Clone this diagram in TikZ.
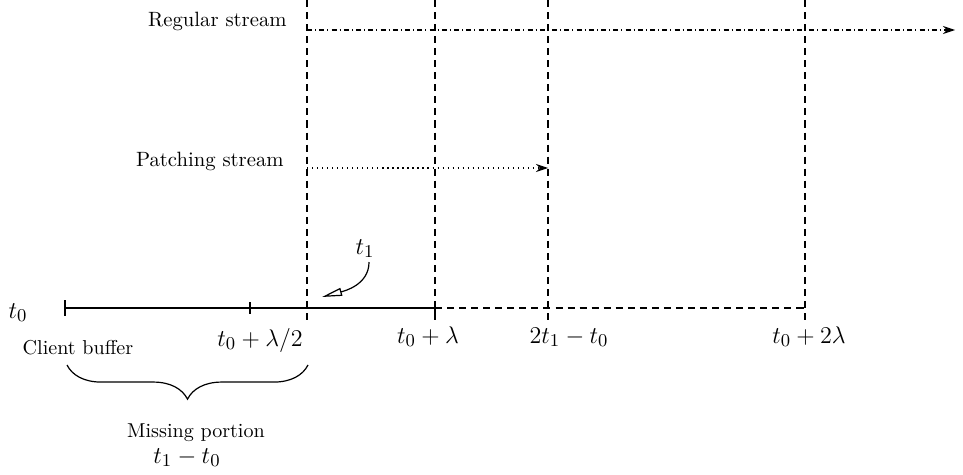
\documentclass[tikz,border=0pt]{standalone}
\usetikzlibrary{arrows.meta,decorations.pathreplacing}

\begin{document}
\begin{tikzpicture}[x=0.0175cm,y=-0.0175cm,
    guide/.style={semithick, dash pattern=on 3.5pt off 2.5pt},
    mathlabel/.style={font=\fontsize{13}{15}\selectfont, anchor=base, inner sep=0pt},
    streamlabel/.style={anchor=base east, inner sep=0pt},
    >={Stealth[length=6pt,width=4pt]}]
    \useasboundingbox (0,0) rectangle (963,475);

    % points on the time axis
    \coordinate (top) at (0,0);
    \coordinate (low) at (0,320);
    \coordinate (a0) at (65,308);
    \coordinate (ahalf) at (250,308);
    \coordinate (a1) at (307,308);
    \coordinate (alam) at (435,308);
    \coordinate (apatch) at (548,308);
    \coordinate (a2lam) at (805,308);

    \foreach \p in {a1,alam,apatch,a2lam}
        \draw[guide] (\p |- top) -- (\p |- low);

    \draw[semithick] (a0) -- (alam);
    \draw[guide] (alam) -- (a2lam);
    \draw[semithick] (a0) ++(0,-8) -- ++(0,16);
    \draw[semithick] (ahalf) ++(0,-6) -- ++(0,12);
    \draw[semithick] (alam) ++(0,-6) -- ++(0,12);

    % the two streams
    \coordinate (reg) at (307,30);
    \coordinate (regend) at (955,30);
    \coordinate (pat) at (307,168);
    \draw[semithick, dash pattern=on 2.5pt off 1.5pt on 0.6pt off 1.5pt, ->] (reg) -- (regend);
    \draw[semithick, dash pattern=on 0.6pt off 1.9pt, ->] (pat) -- (apatch |- pat);
    \node[streamlabel, font=\fontsize{10.3}{12}\selectfont] (reglabel) at (287,27) {Regular stream};
    \node[streamlabel, font=\fontsize{10.3}{12}\selectfont] (patlabel) at (284,167) {Patching stream};

    \node[mathlabel] (lt0) at (18,318) {$t_0$};
    \node[mathlabel] (lhalf) at (260,346) {$t_0+\lambda/2$};
    \node[mathlabel] (llam) at (428,343) {$t_0+\lambda$};
    \node[mathlabel] (lpatch) at (569,343) {$2t_1-t_0$};
    \node[mathlabel] (l2lam) at (809,343) {$t_0+2\lambda$};
    \node[anchor=base, inner sep=0pt] (buffer) at (78,354) {Client buffer};

    % arrival of the client
    \node[mathlabel] (lt1) at (365,254) {$t_1$};
    \coordinate (t1tip) at (322,297);
    \draw[semithick, -{Triangle[open,length=10pt,width=4pt]}]
        ([xshift=2pt,yshift=-2pt]lt1.south) to[out=-90,in=15] (t1tip);

    % missing part of the buffer
    \coordinate (bl) at (67,365);
    \coordinate (br) at (308,365);
    \draw[semithick, decorate, decoration={brace,amplitude=17pt}] (br) -- (bl);
    \node[anchor=base, inner sep=0pt] (missing) at (196,437) {Missing portion};
    \node[mathlabel] (lmiss) at (187,463) {$t_1-t_0$};
\end{tikzpicture}
\end{document}
